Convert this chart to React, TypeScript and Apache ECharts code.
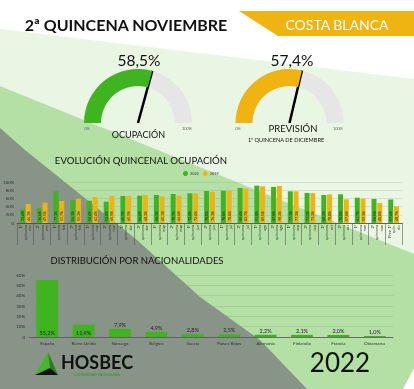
import React, { useEffect, useRef } from "react";
import * as echarts from "echarts";

const periods = [
  "1ª\nquincena\nene", "2ª\nquincena\nene", "1ª\nquincena\nfeb", "2ª\nquincena\nfeb",
  "1ª\nquincena\nmar", "2ª\nquincena\nmar", "1ª\nquincena\nabr", "2ª\nquincena\nabr",
  "1ª\nquincena\nmay", "2ª\nquincena\nmay", "1ª\nquincena\njun", "2ª\nquincena\njun",
  "1ª\nquincena\njul", "2ª\nquincena\njul", "1ª\nquincena\nago", "2ª\nquincena\nago",
  "1ª\nquincena\nsep", "2ª\nquincena\nsep", "1ª\nquincena\noct", "2ª\nquincena\noct",
  "1ª\nquincena\nnov", "2ª\nquincena\nnov", "Prev. 1ª\nquin.\ndic",
];
const occ2022 = [33.4, 36.6, 77.3, 56.1, 54.4, 52.0, 65.9, 66.6, 68.3, 70.7, 72.4, 78.0, 78.8, 85.4, 91.0, 87.8, 77.3, 73.2, 68.3, 70.0, 61.7, 58.5, 57.4];
const occ2019 = [46.3, 49.5, 53.7, 59.3, 63.4, 65.9, 65.9, 68.3, 65.1, 66.6, 72.4, 76.3, 78.8, 83.7, 89.5, 90.2, 77.3, 73.2, 70.0, 57.8, 59.3, 48.8, 40.7];

const countries = ["España", "Reino Unido", "Noruega", "Bélgica", "Suecia", "Países Bajos", "Alemania", "Finlandia", "Francia", "Dinamarca"];
const shares = [55.2, 11.9, 7.9, 4.9, 2.8, 2.5, 2.2, 2.1, 2.0, 1.0];

const occupancyNow = 58.5;
const forecastNext = 57.4;

const GREEN = "#3fb420";
const YELLOW = "#f0b412";
const TRACK = "#e6e6e6";
const FONT = "Lato, 'Open Sans', sans-serif";

const fmt = (v: number) => v.toFixed(1).replace(".", ",") + "%";

function txt(text: string, x: number, y: number, size: number, fill: string, weight = "normal", align = "center") {
  return {
    type: "text",
    z: 50,
    style: {
      text, x, y, fill,
      font: `${weight} ${size}px ${FONT}`,
      align, verticalAlign: "middle",
      textAlign: align, textVerticalAlign: "middle",
    },
  };
}

function gauge(value: number, cx: number, color: string) {
  return {
    type: "gauge",
    center: [cx, 123],
    radius: 54,
    startAngle: 180,
    endAngle: 0,
    min: 0,
    max: 100,
    z: 5,
    progress: { show: true, width: 17, itemStyle: { color } },
    axisLine: { lineStyle: { width: 17, color: [[1, TRACK]] } },
    pointer: { icon: "rect", width: 2.5, length: "100%", offsetCenter: [0, 0], itemStyle: { color: "#000" } },
    axisTick: { show: false },
    splitLine: { show: false },
    axisLabel: { show: false },
    anchor: { show: false },
    title: { show: false },
    detail: { show: false },
    data: [{ value }],
  };
}

export default function App() {
  const ref = useRef<HTMLDivElement>(null);
  useEffect(() => {
    if (!ref.current) return;
    const chart = echarts.init(ref.current, null, { renderer: "svg" });
    const bg = [
      { type: "rect", z: -30, shape: { x: 0, y: 0, width: 414, height: 389 }, style: { fill: "#ffffff" } },
      { type: "polygon", z: -29, shape: { points: [[0, 29], [414, 79], [414, 389], [0, 389]] }, style: { fill: "#e9f6e4" } },
      { type: "polygon", z: -28, shape: { points: [[0, 86], [414, 254], [414, 389], [0, 389]] }, style: { fill: "#b4e0a5" } },
      { type: "polygon", z: -27, shape: { points: [[0, 128], [25, 150], [137, 240], [200, 297], [260, 340], [307, 389], [0, 389]] }, style: { fill: "#889487" } },
      { type: "polygon", z: -26, shape: { points: [[414, 368], [414, 389], [403, 389]] }, style: { fill: "#ffffff" } },
      { type: "polygon", z: -25, shape: { points: [[239, 11], [414, 11], [414, 36], [278, 36]] }, style: { fill: YELLOW } },
    ];
    const logo = [
      { type: "polygon", z: 40, shape: { points: [[48, 352], [35, 375], [50, 368]] }, style: { fill: "#43b82a" } },
      { type: "polygon", z: 40, shape: { points: [[48, 352], [50, 368], [58, 375]] }, style: { fill: "#2b7d1f" } },
      { type: "polygon", z: 40, shape: { points: [[35, 375], [50, 368], [58, 375]] }, style: { fill: "#111" } },
    ];
    const texts = [
      txt("2ª QUINCENA NOVIEMBRE", 126, 24, 16, "#111", "bold"),
      txt("COSTA BLANCA", 337, 24, 14, "#ffffff", "normal"),
      txt(fmt(occupancyNow), 139, 60, 15.5, "#111", "normal"),
      txt(fmt(forecastNext), 292, 60, 15.5, "#111", "normal"),
      txt("OCUPACIÓN", 138.5, 134, 9, "#111", "normal"),
      txt("PREVISIÓN", 293, 128, 9.5, "#111", "normal"),
      txt("1ª QUINCENA DE DICIEMBRE", 286, 139, 5.6, "#111", "normal"),
      txt("0%", 87, 128, 4, "#666"),
      txt("100%", 187, 128, 4, "#666"),
      txt("0%", 238, 128, 4, "#666"),
      txt("100%", 338, 128, 4, "#666"),
      txt("EVOLUCIÓN QUINCENAL OCUPACIÓN", 141, 160, 9.6, "#111", "normal"),
      txt("DISTRIBUCIÓN POR NACIONALIDADES", 137, 260, 9.5, "#111", "normal"),
      txt("HOSBEC", 97, 362, 18, "#111", "bold"),
      txt("COMUNIDAD VALENCIANA", 97, 374, 3.6, "#2f9a1d", "normal"),
      txt("2022", 340, 362, 26, "#111", "normal"),
    ];

    const option: any = {
      animation: false,
      textStyle: { fontFamily: FONT },
      graphic: { elements: [...bg, ...logo, ...texts] },
      legend: {
        data: ["2022", "2019"],
        left: 183,
        top: 171,
        padding: 0,
        icon: "circle",
        itemWidth: 5,
        itemHeight: 5,
        itemGap: 4,
        textStyle: { fontSize: 3.8, color: "#333", padding: [0, 0, 0, -3] },
      },
      grid: [
        { left: 17, right: 12, top: 182, bottom: 166 },
        { left: 29, right: 21, top: 275, bottom: 52 },
      ],
      xAxis: [
        {
          type: "category", gridIndex: 0, data: periods,
          axisLine: { lineStyle: { color: "#444", width: 0.8 } },
          axisTick: { show: true, length: 22, interval: 0, lineStyle: { color: "#555", width: 0.6 } },
          axisLabel: { interval: 0, rotate: 90, fontSize: 3.8, lineHeight: 4.4, color: "#333", margin: 2 },
        },
        {
          type: "category", gridIndex: 1, data: countries,
          axisLine: { lineStyle: { color: "#555", width: 0.8 } },
          axisTick: { show: false },
          axisLabel: { interval: 0, fontSize: 4.5, color: "#333", margin: 4 },
        },
      ],
      yAxis: [
        {
          type: "value", gridIndex: 0, min: 0, max: 100, interval: 20,
          axisLabel: { fontSize: 4.2, color: "#333", margin: 3, formatter: (v: number) => (v === 0 ? "0" : v + "%") },
          splitLine: { lineStyle: { color: "rgba(130,150,130,0.35)", width: 0.6 } },
        },
        {
          type: "value", gridIndex: 1, min: 0, max: 60, interval: 10,
          axisLabel: { fontSize: 4.5, color: "#333", margin: 4, formatter: (v: number) => (v === 0 ? "0" : v + "%") },
          splitLine: { lineStyle: { color: "rgba(130,150,130,0.45)", width: 0.6 } },
        },
      ],
      series: [
        gauge(occupancyNow, 138, GREEN),
        gauge(forecastNext, 289.5, YELLOW),
        {
          name: "2022", type: "bar", xAxisIndex: 0, yAxisIndex: 0, data: occ2022,
          barWidth: 5, barGap: "15%", itemStyle: { color: GREEN },
          label: {
            show: true, position: "insideBottom", rotate: 90, align: "left", verticalAlign: "middle",
            distance: 2, fontSize: 3.6, color: "#222", formatter: (p: any) => fmt(p.value),
          },
        },
        {
          name: "2019", type: "bar", xAxisIndex: 0, yAxisIndex: 0, data: occ2019,
          barWidth: 5, itemStyle: { color: YELLOW },
          label: {
            show: true, position: "insideBottom", rotate: 90, align: "left", verticalAlign: "middle",
            distance: 2, fontSize: 3.6, color: "#222", formatter: (p: any) => fmt(p.value),
          },
        },
        {
          name: "Nacionalidades", type: "bar", xAxisIndex: 1, yAxisIndex: 1,
          barWidth: "60%", itemStyle: { color: GREEN },
          data: shares.map((v, i) => ({
            value: v,
            label: { position: i < 2 ? "insideBottom" : "top", distance: 1 },
          })),
          label: { show: true, fontSize: 5.5, color: "#222", formatter: (p: any) => fmt(p.value) },
        },
      ],
    };
    chart.setOption(option);
    return () => chart.dispose();
  }, []);
  return <div ref={ref} style={{ position: "fixed", left: 0, top: 0, width: 414, height: 389 }} />;
}
